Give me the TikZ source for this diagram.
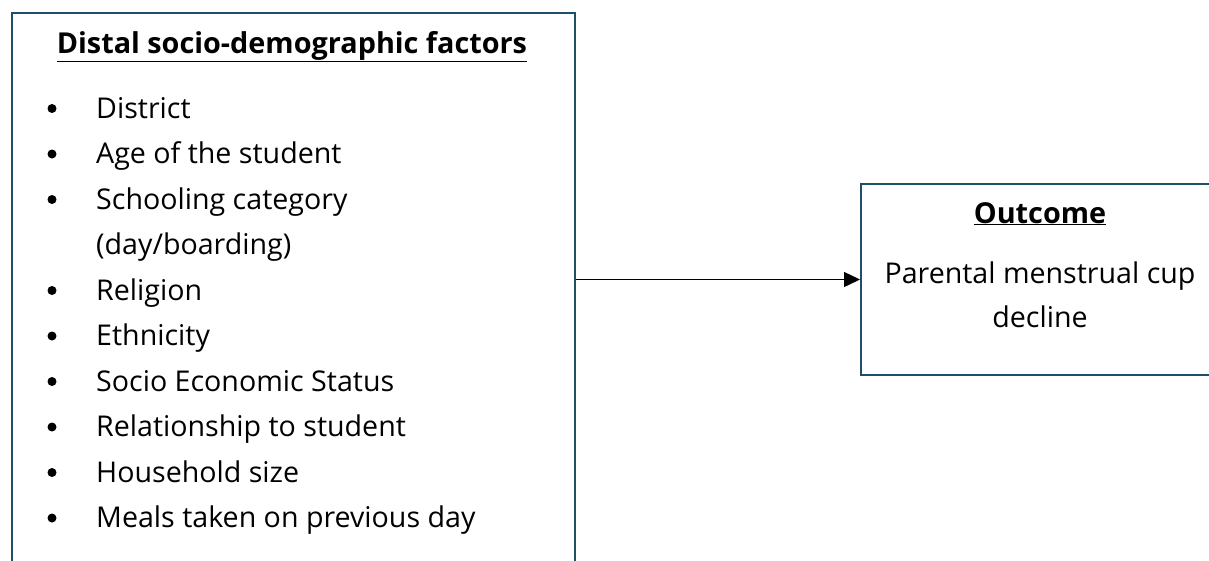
\documentclass[tikz,border=0pt]{standalone}
\usepackage{fontspec}
\setmainfont{Open Sans}
\usetikzlibrary{arrows.meta}
\definecolor{boxblue}{HTML}{1F4E6B}
\tikzset{
  boxframe/.style={draw=boxblue, line width=2pt, fill=white, inner sep=0pt},
  itemtext/.style={anchor=base west, inner sep=0pt, font=\fontsize{28.6}{32}\selectfont},
  titletext/.style={anchor=base, inner sep=0pt, font=\fontsize{28.8}{32}\selectfont\bfseries},
  bodytext/.style={anchor=base, inner sep=0pt, font=\fontsize{28.6}{32}\selectfont},
  bulletdot/.style={circle, fill=black, inner sep=0pt, minimum size=9pt},
  conn/.style={-{Triangle[length=16pt,width=15pt]}, line width=1.4pt, black}
}
\begin{document}
\begin{tikzpicture}[x=1pt,y=-1pt]
\useasboundingbox (0,0) rectangle (1209,560);
\clip (0,0) rectangle (1209,560);
\node[boxframe, anchor=north west, minimum width=563pt, minimum height=600pt] (left) at (11,12) {};
\node[boxframe, anchor=north west, minimum width=380pt, minimum height=191pt] (right) at (860,183) {};
\node[titletext] (lt) at (292,53) {\underline{Distal socio-demographic factors}};
\foreach \i/\y/\t in {1/118/District, 2/163.5/Age of the student, 3/209/Schooling category, 5/300/Religion, 6/345.5/Ethnicity, 7/391/Socio Economic Status, 8/436.5/Relationship to student, 9/482/Household size, 10/527.5/Meals taken on previous day}{
  \node[bulletdot] (b\i) at (52,\y-9.5) {};
  \node[itemtext] (t\i) at (96,\y) {\t};
}
\node[itemtext] (t4) at (96,254.5) {(day/boarding)};
\node[titletext] (rt) at (1040,223) {\underline{Outcome}};
\node[bodytext] (r1) at (1040,283) {Parental menstrual cup};
\node[bodytext] (r2) at (1040,327) {decline};
\draw[conn] (left.east |- right.west) -- (right.west);
\end{tikzpicture}
\end{document}
